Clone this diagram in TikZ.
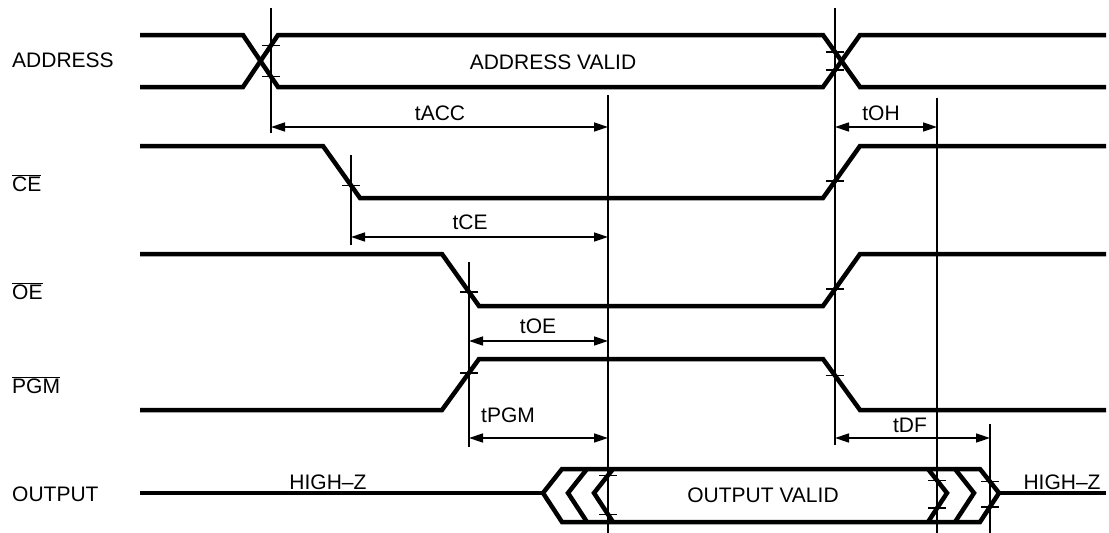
\documentclass[tikz,border=0pt]{standalone}
\usepackage{fontspec}
\setmainfont{Liberation Sans}
\usetikzlibrary{arrows.meta}
\begin{document}
\begin{tikzpicture}[x=1pt,y=-1pt,
  sig/.style={line width=4.5pt},
  ref/.style={line width=1.6pt},
  dim/.style={line width=1.6pt,{Triangle[length=14pt,width=9pt]}-{Triangle[length=14pt,width=9pt]}},
  tickm/.style={line width=1.6pt},
  lbl/.style={font=\fontsize{21}{25}\selectfont, inner sep=0pt},
  sname/.style={font=\fontsize{21}{25}\selectfont, inner sep=0pt, anchor=west}]
\useasboundingbox (0,0) rectangle (1109,533);
% reference lines
\coordinate (v1t) at (271,8);   \coordinate (v1b) at (271,133);
\coordinate (v2t) at (835,8);   \coordinate (v2b) at (835,445);
\coordinate (v3t) at (608,95);  \coordinate (v3b) at (608,533);
\coordinate (v4t) at (937,98);  \coordinate (v4b) at (937,533);
\coordinate (v5t) at (351,155); \coordinate (v5b) at (351,245);
\coordinate (v6t) at (469,262); \coordinate (v6b) at (469,447);
\coordinate (v7t) at (990,424); \coordinate (v7b) at (990,533);
\foreach \v in {1,...,7} \draw[ref] (v\v t) -- (v\v b);
% signal names
\node[sname] (nA) at (12,60) {ADDRESS};
\node[sname] (nC) at (12,183) {$\overline{\mbox{CE}}$};
\node[sname] (nO) at (12,291) {$\overline{\mbox{OE}}$};
\node[sname] (nP) at (12,385) {$\overline{\mbox{PGM}}$};
\node[sname] (nQ) at (12,494) {OUTPUT};
% ADDRESS
\coordinate (a1) at (243,35); \coordinate (a2) at (278,87);
\coordinate (a3) at (243,87); \coordinate (a4) at (278,35);
\coordinate (a5) at (823,87); \coordinate (a6) at (860,35);
\coordinate (a7) at (823,35); \coordinate (a8) at (860,87);
\draw[sig] (140,35) -- (a1) -- (a2) -- (a5) -- (a6) -- (1106,35);
\draw[sig] (140,87) -- (a3) -- (a4) -- (a7) -- (a8) -- (1106,87);
\node[lbl] (av) at (553,62) {ADDRESS VALID};
% CE
\coordinate (c1) at (323,146); \coordinate (c2) at (360,198);
\coordinate (c3) at (823,198); \coordinate (c4) at (860,146);
\draw[sig] (140,146) -- (c1) -- (c2) -- (c3) -- (c4) -- (1106,146);
% OE
\coordinate (o1) at (442,254); \coordinate (o2) at (479,306);
\coordinate (o3) at (823,306); \coordinate (o4) at (860,254);
\draw[sig] (140,254) -- (o1) -- (o2) -- (o3) -- (o4) -- (1106,254);
% PGM
\coordinate (p1) at (442,410); \coordinate (p2) at (479,359);
\coordinate (p3) at (823,359); \coordinate (p4) at (860,410);
\draw[sig] (140,410) -- (p1) -- (p2) -- (p3) -- (p4) -- (1106,410);
% OUTPUT
\draw[sig] (140,493) -- (543,493);
\draw[sig] (543,493) -- (562,469) -- (980,469) -- (999,493) -- (980,522) -- (562,522) -- cycle;
\draw[sig] (999,493) -- (1106,493);
\coordinate (q1) at (587,469); \coordinate (q2) at (568,493); \coordinate (q3) at (587,522);
\coordinate (q4) at (613,469); \coordinate (q5) at (594,493); \coordinate (q6) at (613,522);
\draw[sig] (q1) -- (q2) -- (q3);
\draw[sig] (q4) -- (q5) -- (q6);
\coordinate (r1) at (928,469); \coordinate (r2) at (947,493); \coordinate (r3) at (928,522);
\coordinate (r4) at (955,469); \coordinate (r5) at (974,493); \coordinate (r6) at (955,522);
\coordinate (r7) at (980,469); \coordinate (r8) at (999,493); \coordinate (r9) at (980,522);
\draw[sig] (r1) -- (r2) -- (r3);
\draw[sig] (r4) -- (r5) -- (r6);
\node[lbl] (hz1) at (328,482) {HIGH--Z};
\node[lbl] (hz2) at (1062,482) {HIGH--Z};
\node[lbl] (ov) at (763,495) {OUTPUT VALID};
% ticks
\coordinate (t1) at (intersection of a1--a2 and v1t--v1b);
\coordinate (t2) at (intersection of a3--a4 and v1t--v1b);
\coordinate (t3) at (intersection of a5--a6 and v2t--v2b);
\coordinate (t4) at (intersection of a7--a8 and v2t--v2b);
\coordinate (t5) at (intersection of c1--c2 and v5t--v5b);
\coordinate (t6) at (intersection of c3--c4 and v2t--v2b);
\coordinate (t7) at (intersection of o1--o2 and v6t--v6b);
\coordinate (t8) at (intersection of o3--o4 and v2t--v2b);
\coordinate (t9) at (intersection of p1--p2 and v6t--v6b);
\coordinate (t10) at (intersection of p3--p4 and v2t--v2b);
\coordinate (t11) at (intersection of q4--q5 and v3t--v3b);
\coordinate (t12) at (intersection of q5--q6 and v3t--v3b);
\coordinate (t13) at (intersection of r1--r2 and v4t--v4b);
\coordinate (t14) at (intersection of r2--r3 and v4t--v4b);
\coordinate (t15) at (intersection of r7--r8 and v7t--v7b);
\coordinate (t16) at (intersection of r8--r9 and v7t--v7b);
\foreach \t in {1,...,16} \draw[tickm] (t\t) +(-9,0) -- +(9,0);
% dimension arrows
\coordinate (dA1) at (271,127); \coordinate (dA2) at (608,127);
\coordinate (dH1) at (835,127); \coordinate (dH2) at (937,127);
\coordinate (dC1) at (351,237); \coordinate (dC2) at (608,237);
\coordinate (dO1) at (469,341); \coordinate (dO2) at (608,341);
\coordinate (dP1) at (469,438); \coordinate (dP2) at (608,438);
\coordinate (dF1) at (835,438); \coordinate (dF2) at (990,438);
\draw[dim] (dA1) -- (dA2);
\draw[dim] (dH1) -- (dH2);
\draw[dim] (dC1) -- (dC2);
\draw[dim] (dO1) -- (dO2);
\draw[dim] (dP1) -- (dP2);
\draw[dim] (dF1) -- (dF2);
\node[lbl] (lA) at (440,113) {tACC};
\node[lbl] (lH) at (881,113) {tOH};
\node[lbl] (lC) at (470,222) {tCE};
\node[lbl] (lO) at (538,326) {tOE};
\node[lbl] (lP) at (508,415) {tPGM};
\node[lbl] (lF) at (910,425) {tDF};
\end{tikzpicture}
\end{document}
